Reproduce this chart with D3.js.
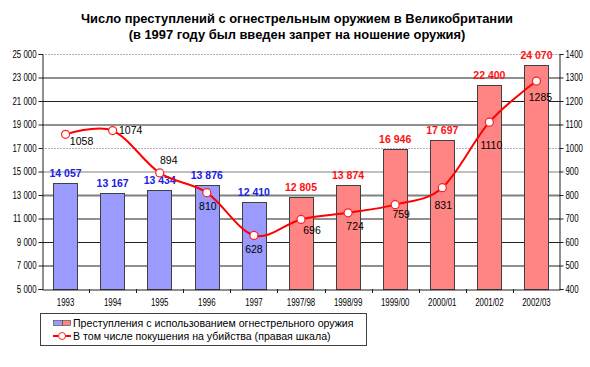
<!DOCTYPE html>
<html>
<head>
<meta charset="utf-8">
<script src="https://cdn.jsdelivr.net/npm/d3@7"></script>
<style>
  body { margin: 0; background: #fff; }
  text { font-family: "Liberation Sans", Arial, sans-serif; }
</style>
</head>
<body>
<svg id="viz" width="590" height="367"></svg>
<script>
// data
var years = ["1993", "1994", "1995", "1996", "1997", "1997/98", "1998/99", "1999/00", "2000/01", "2001/02", "2002/03"];
var gunCrimes = [14057, 13167, 13434, 13876, 12410, 12805, 13874, 16946, 17697, 22400, 24070];
var attemptedMurders = [1058, 1074, 894, 810, 628, 696, 724, 759, 831, 1110, 1285];
var banIndex = 5; // from 1997/98 bars are red
var leftTicks = [5000, 7000, 9000, 11000, 13000, 15000, 17000, 19000, 21000, 23000, 25000];
var rightTicks = [400, 500, 600, 700, 800, 900, 1000, 1100, 1200, 1300, 1400];
var titleLines = [
  "Число преступлений с огнестрельным оружием в Великобритании",
  "(в 1997 году был введен запрет на ношение оружия)"
];
var legendLabels = [
  "Преступления с использованием огнестрельного оружия",
  "В том числе покушения на убийства (правая шкала)"
];

function drawChart() {
  var svg = d3.select("#viz");
  var margin = { top: 54, left: 42, bottom: 78, right: 30 };
  var width = +svg.attr("width") - margin.left - margin.right;
  var height = +svg.attr("height") - margin.top - margin.bottom;
  var squeeze = 0.75; // the original axis font is a condensed one
  var fmt = function (v) {
    return d3.format(",")(v).replace(/,/g, " ");
  };

  var x = d3.scaleBand().domain(years).range([0, width]).paddingInner(0.48).paddingOuter(0.24);
  var xc = function (d) {
    return x(d) + x.bandwidth() / 2;
  };
  var y = d3.scaleLinear().domain([5000, 25000]).range([height, 0]);
  var y2 = d3.scaleLinear().domain([400, 1400]).range([height, 0]);

  // title
  svg
    .selectAll(".title")
    .data(titleLines)
    .enter()
    .append("text")
    .attr("x", 297)
    .attr("y", function (d, i) {
      return 23 + i * 16;
    })
    .attr("text-anchor", "middle")
    .style("font-size", "12.9px")
    .style("font-weight", "bold")
    .text(function (d) {
      return d;
    });

  var chart = svg
    .append("g")
    .attr("transform", "translate(" + margin.left + "," + margin.top + ")");

  // gridlines
  chart
    .selectAll(".grid")
    .data(leftTicks.slice(1))
    .enter()
    .append("line")
    .attr("x1", 0)
    .attr("x2", width)
    .attr("y1", function (d) {
      return y(d) + 0.5;
    })
    .attr("y2", function (d) {
      return y(d) + 0.5;
    })
    .attr("stroke", function (d) {
      if (d === 25000) return "#b0b0b0";
      if (d === 17000) return "#b8a8c8";
      if (d === 13000 || d === 15000) return "#808080";
      return "#202020";
    })
    .attr("stroke-width", function (d) {
      return d === 13000 ? 2 : 1;
    })
    .attr("stroke-dasharray", function (d) {
      return d === 25000 || d === 17000 ? "2,1" : null;
    });

  // bars
  chart
    .selectAll(".bar")
    .data(gunCrimes)
    .enter()
    .append("rect")
    .attr("x", function (d, i) {
      return Math.round(x(years[i])) + 0.5;
    })
    .attr("y", function (d) {
      return Math.round(y(d)) + 0.5;
    })
    .attr("width", Math.round(x.bandwidth()))
    .attr("height", function (d) {
      return height - Math.round(y(d));
    })
    .attr("fill", function (d, i) {
      return i < banIndex ? "#9a9aff" : "#ff8484";
    })
    .attr("stroke", "#404040")
    .attr("stroke-width", 1);

  // axes
  var leftAxis = chart
    .append("g")
    .attr("transform", "translate(0.5,0)")
    .call(d3.axisLeft(y).tickValues(leftTicks).tickSize(4).tickFormat(fmt));
  var rightAxis = chart
    .append("g")
    .attr("transform", "translate(" + (width - 0.5) + ",0)")
    .call(d3.axisRight(y2).tickValues(rightTicks).tickSize(4).tickFormat(d3.format("d")));
  var bottomAxis = chart
    .append("g")
    .attr("transform", "translate(0," + (height + 0.5) + ")")
    .call(d3.axisBottom(x).tickSize(0).tickPadding(9));
  [leftAxis, rightAxis, bottomAxis].forEach(function (a) {
    a.selectAll("text")
      .style("font-size", "10.5px")
      .attr("fill", "#000");
    a.select(".domain").attr("stroke", "#202020");
    a.selectAll(".tick line").attr("stroke", "#202020");
  });
  leftAxis
    .selectAll(".tick text")
    .attr("x", -6 / squeeze)
    .attr("transform", "scale(" + squeeze + ",1)");
  rightAxis
    .selectAll(".tick text")
    .attr("x", 6 / squeeze)
    .attr("transform", "scale(" + squeeze + ",1)");
  bottomAxis.selectAll(".tick text").attr("transform", "scale(" + squeeze + ",1)");

  // ticks between categories on x axis
  chart
    .selectAll(".xsep")
    .data(years.slice(1))
    .enter()
    .append("line")
    .attr("x1", function (d) {
      return Math.round(x(d) - (x.step() * x.paddingInner()) / 2) + 0.5;
    })
    .attr("x2", function (d) {
      return Math.round(x(d) - (x.step() * x.paddingInner()) / 2) + 0.5;
    })
    .attr("y1", height)
    .attr("y2", height + 4)
    .attr("stroke", "#202020");

  // bar value labels
  chart
    .selectAll(".barlabel")
    .data(gunCrimes)
    .enter()
    .append("text")
    .attr("x", function (d, i) {
      return xc(years[i]);
    })
    .attr("y", function (d) {
      return y(d) - 6;
    })
    .attr("text-anchor", "middle")
    .style("font-size", "10.5px")
    .style("font-weight", "bold")
    .attr("fill", function (d, i) {
      return i < banIndex ? "#2020e0" : "#ff1010";
    })
    .text(fmt);

  // attempted murders line
  var line = d3
    .line()
    .curve(d3.curveCardinal.tension(0))
    .x(function (d, i) {
      return xc(years[i]);
    })
    .y(function (d) {
      return y2(d);
    });
  chart
    .append("path")
    .datum(attemptedMurders)
    .attr("fill", "none")
    .attr("stroke", "#ff0000")
    .attr("stroke-width", 2)
    .attr("d", line);
  chart
    .selectAll(".dot")
    .data(attemptedMurders)
    .enter()
    .append("circle")
    .attr("cx", function (d, i) {
      return xc(years[i]);
    })
    .attr("cy", function (d) {
      return y2(d);
    })
    .attr("r", 4)
    .attr("fill", "#fff")
    .attr("stroke", "#ff2020")
    .attr("stroke-width", 1.2);

  // label nudges relative to each point
  var nudge = [[16, 7], [18, 0], [9, -13], [1, 14], [0, 14], [11, 11], [7, 13], [6, 10], [1, 18], [2, 23], [4, 16]];
  chart
    .selectAll(".linelabel")
    .data(attemptedMurders)
    .enter()
    .append("text")
    .attr("x", function (d, i) {
      return xc(years[i]) + nudge[i][0];
    })
    .attr("y", function (d, i) {
      return y2(d) + nudge[i][1];
    })
    .attr("dy", "0.35em")
    .attr("text-anchor", "middle")
    .style("font-size", "10.5px")
    .attr("fill", "#000")
    .text(function (d) {
      return d;
    });

  // legend
  var legend = svg.append("g").attr("transform", "translate(40,313)");
  legend
    .append("rect")
    .attr("x", 0.5)
    .attr("y", 0.5)
    .attr("width", 326)
    .attr("height", 32)
    .attr("fill", "#fff")
    .attr("stroke", "#404040");
  legend.append("rect").attr("x", 13.5).attr("y", 7.5).attr("width", 9).attr("height", 5).attr("fill", "#9a9aff").attr("stroke", "#404040").attr("stroke-width", 0.6);
  legend.append("rect").attr("x", 22.5).attr("y", 7.5).attr("width", 8).attr("height", 5).attr("fill", "#ff8484").attr("stroke", "#404040").attr("stroke-width", 0.6);
  legend.append("line").attr("x1", 13).attr("x2", 31).attr("y1", 23).attr("y2", 23).attr("stroke", "#ff0000").attr("stroke-width", 2);
  legend.append("circle").attr("cx", 22).attr("cy", 23).attr("r", 3.5).attr("fill", "#fff").attr("stroke", "#ff2020");
  legend
    .selectAll(".legtext")
    .data(legendLabels)
    .enter()
    .append("text")
    .attr("x", 33)
    .attr("y", function (d, i) {
      return 10 + i * 13;
    })
    .attr("dy", "0.35em")
    .style("font-size", "10.6px")
    .attr("fill", "#000")
    .text(function (d) {
      return d;
    });
}

drawChart();
</script>
</body>
</html>
